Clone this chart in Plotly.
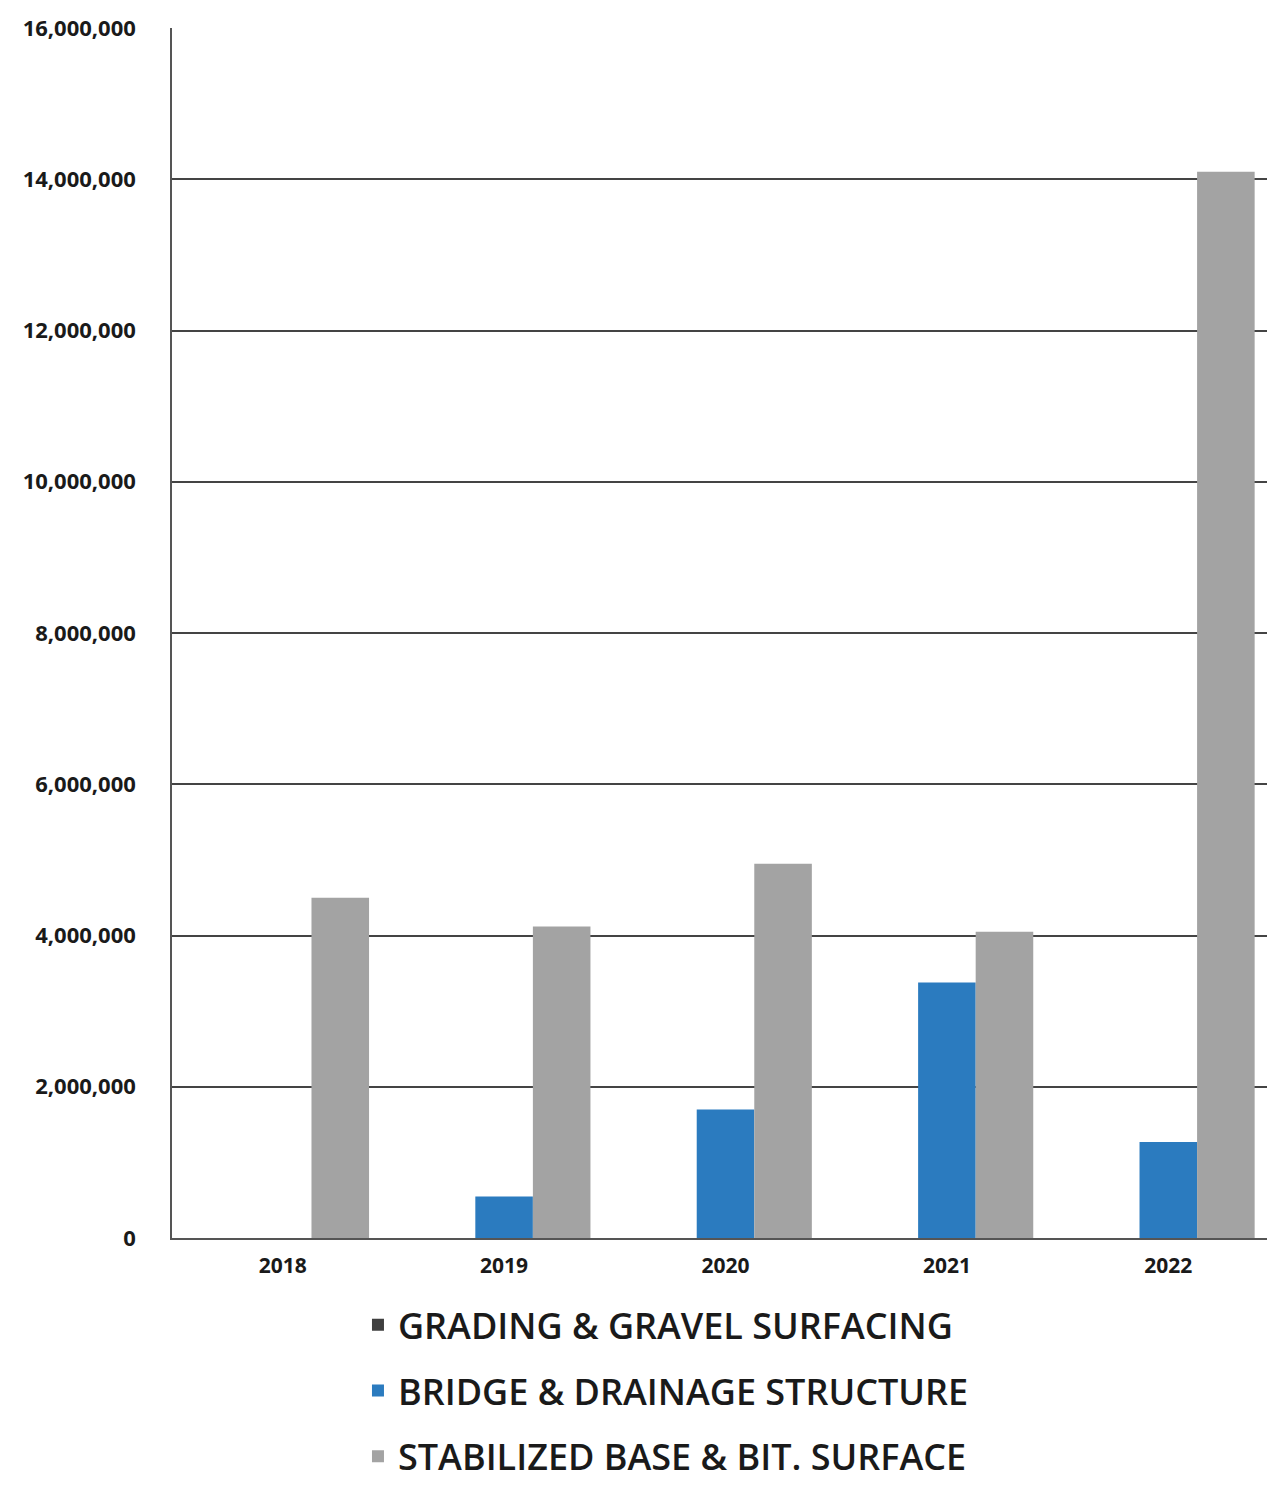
import plotly.graph_objects as go

years = ["2018", "2019", "2020", "2021", "2022"]
grading = [0, 0, 0, 0, 0]
bridge = [0, 550000, 1700000, 3380000, 1270000]
stabilized = [4500000, 4120000, 4950000, 4050000, 14100000]

series_names = ["GRADING & GRAVEL SURFACING", "BRIDGE & DRAINAGE STRUCTURE", "STABILIZED BASE & BIT. SURFACE"]
colors = ["#3f3f3f", "#2b7bbf", "#a3a3a3"]

fig = go.Figure()
for i, (name, vals) in enumerate(zip(series_names, [grading, bridge, stabilized])):
    fig.add_trace(go.Bar(x=years, y=vals, name=name, marker_color=colors[i],
                         marker_line_width=0, legendgroup=str(i)))

fig.update_layout(
    width=1275, height=1501,
    margin=dict(l=164, r=4, t=20, b=271, autoexpand=False),
    paper_bgcolor="white", plot_bgcolor="white",
    barmode="group", bargap=0.22, bargroupgap=0,
    font=dict(family="Open Sans, DejaVu Sans, sans-serif", color="#1a1a1a"),
    showlegend=True,
    legend=dict(orientation="v", x=0.168, xanchor="left", y=-0.047, yanchor="top",
                font=dict(size=36, weight=600, family="Open Sans, sans-serif", color="#1a1a1a"),
                tracegroupgap=16, itemsizing="constant"),
    xaxis=dict(showgrid=False, showline=True, linecolor="#555", linewidth=1.5,
               tickfont=dict(size=21, weight="bold"), ticks="", ticklabelstandoff=8),
    yaxis=dict(range=[0, 16000000], dtick=2000000, tickformat=",d",
               showgrid=True, gridcolor="#444", gridwidth=1.5,
               showline=True, linecolor="#555", linewidth=1.5,
               zeroline=False, ticks="", ticklabelstandoff=30,
               tickfont=dict(size=22, weight="bold")),
)

fig.write_html("out.html")
